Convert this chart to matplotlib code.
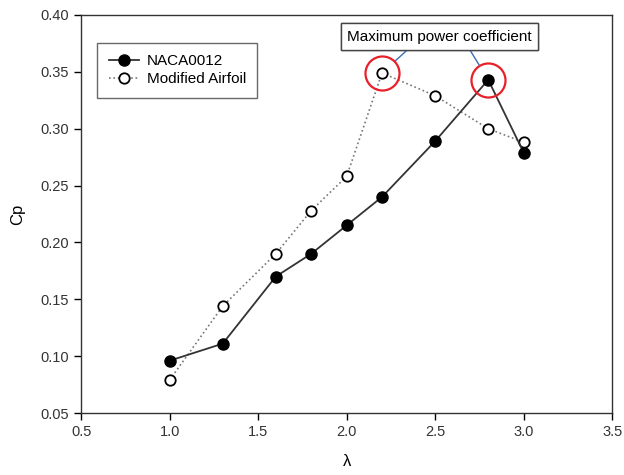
import matplotlib
matplotlib.use("Agg")
import matplotlib.pyplot as plt

plt.rcParams['font.family'] = ['Liberation Sans', 'DejaVu Sans']

# Data
tsr = [1.0, 1.3, 1.6, 1.8, 2.0, 2.2, 2.5, 2.8, 3.0]
cp_naca = [0.096, 0.111, 0.170, 0.190, 0.215, 0.240, 0.289, 0.343, 0.279]
cp_mod = [0.079, 0.144, 0.190, 0.228, 0.258, 0.349, 0.329, 0.300, 0.288]

x_ticks = [0.5, 1.0, 1.5, 2.0, 2.5, 3.0, 3.5]
y_ticks = [0.05, 0.10, 0.15, 0.20, 0.25, 0.30, 0.35, 0.40]

fig = plt.figure(figsize=(6.24, 4.75), dpi=100)
ax = fig.add_axes([0.130, 0.1305, 0.851, 0.838])

ax.plot(tsr, cp_mod, linestyle=':', color='#777777', linewidth=1.2,
        marker='o', markersize=7.5, markerfacecolor='white',
        markeredgecolor='black', markeredgewidth=1.3, label='Modified Airfoil', zorder=3)
ax.plot(tsr, cp_naca, linestyle='-', color='#333333', linewidth=1.3,
        marker='o', markersize=8, markerfacecolor='black',
        markeredgecolor='black', label='NACA0012', zorder=4)

# highlight the maximum of each curve
i_mod = cp_mod.index(max(cp_mod))
i_naca = cp_naca.index(max(cp_naca))
for i, vals in [(i_mod, cp_mod), (i_naca, cp_naca)]:
    ax.plot(tsr[i], vals[i], 'o', markersize=24.5, markerfacecolor='none',
            markeredgecolor='#e8202a', markeredgewidth=1.6, zorder=5)

bbox = dict(boxstyle='square,pad=0.4', facecolor='white', edgecolor='#444444', linewidth=1.0)
txt_pos = (2.523, 0.381)
ax.annotate('Maximum power coefficient', xy=(tsr[i_mod], cp_mod[i_mod]), xytext=txt_pos,
            ha='center', va='center', fontsize=11, bbox=bbox,
            arrowprops=dict(arrowstyle='-', color='#3b6fb6', lw=1.0, relpos=(0.365, 0.0),
                            shrinkA=0, shrinkB=12))
ax.annotate('Maximum power coefficient', xy=(tsr[i_naca], cp_naca[i_naca]), xytext=txt_pos,
            ha='center', va='center', fontsize=11, bbox=bbox, zorder=6,
            arrowprops=dict(arrowstyle='-', color='#3b6fb6', lw=1.0, relpos=(0.645, 0.0),
                            shrinkA=0, shrinkB=12))

ax.set_xlim(0.5, 3.5)
ax.set_ylim(0.05, 0.40)
ax.set_xticks(x_ticks)
ax.set_yticks(y_ticks)
ax.set_xticklabels([f'{v:.1f}' for v in x_ticks], fontsize=10.5, color='#333333')
ax.set_yticklabels([f'{v:.2f}' for v in y_ticks], fontsize=10.5, color='#333333')
ax.tick_params(direction='out', length=5, width=1, top=False, right=False)
for s in ax.spines.values():
    s.set_linewidth(1.0)
    s.set_color('#333333')

ax.set_xlabel('λ', fontsize=12, labelpad=11)
ax.set_ylabel('Cp', fontsize=12, labelpad=11)

handles, labels = ax.get_legend_handles_labels()
leg = ax.legend(handles[::-1], labels[::-1], loc='upper left', bbox_to_anchor=(0.030, 0.93),
                borderaxespad=0, fontsize=11, frameon=True, fancybox=False, edgecolor='#444444',
                handlelength=2.0, handletextpad=0.5, borderpad=0.75, labelspacing=0.25)
leg.get_frame().set_linewidth(1.0)

fig.savefig('out.png', dpi=100)
